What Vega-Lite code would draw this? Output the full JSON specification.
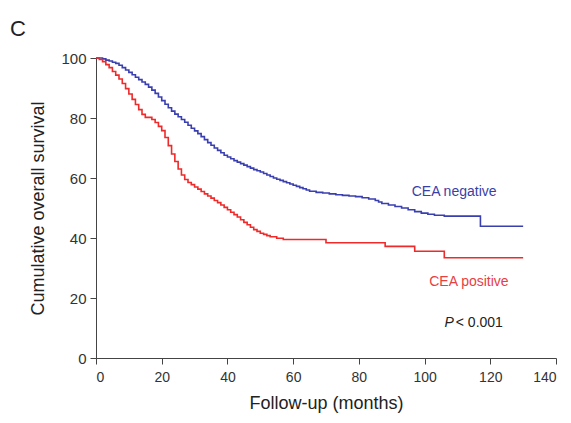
{
  "$schema": "https://vega.github.io/schema/vega-lite/v6.json",
  "autosize": {"type": "none"},
  "width": 460,
  "height": 300,
  "padding": {"left": 96, "top": 58, "right": 15, "bottom": 65},
  "background": "white",
  "title": {"text": "C", "anchor": "start", "frame": "group", "dx": -86, "offset": 10, "fontSize": 22, "font": "Liberation Sans", "fontWeight": "normal", "color": "#222"},
  "config": {
    "view": {"stroke": null},
    "axis": {"labelFont": "Liberation Sans", "titleFont": "Liberation Sans", "labelFontSize": 14, "titleFontSize": 18, "titleFontWeight": "normal", "labelColor": "#333", "titleColor": "#222", "domainColor": "#444", "tickColor": "#444", "grid": false, "tickSize": 6}
  },
  "datasets": {
    "neg": [
      {"t": 0, "s": 100}, {"t": 2, "s": 99.7}, {"t": 3, "s": 99.3}, {"t": 4, "s": 99}, {"t": 5, "s": 98.6}, {"t": 6, "s": 98.2}, {"t": 7, "s": 97.6}, {"t": 8, "s": 96.8}, {"t": 9, "s": 96}, {"t": 10, "s": 95.2},
      {"t": 11, "s": 94.4}, {"t": 12, "s": 93.6}, {"t": 13, "s": 92.8}, {"t": 14, "s": 92}, {"t": 15, "s": 91.2}, {"t": 16, "s": 90.3}, {"t": 17, "s": 89.3}, {"t": 18, "s": 88.2}, {"t": 19, "s": 87}, {"t": 20, "s": 85.8},
      {"t": 21, "s": 84.6}, {"t": 22, "s": 83.4}, {"t": 23, "s": 82.3}, {"t": 24, "s": 81.3}, {"t": 25, "s": 80.4}, {"t": 26, "s": 79.5}, {"t": 27, "s": 78.6}, {"t": 28, "s": 77.6}, {"t": 29, "s": 76.6}, {"t": 30, "s": 75.7},
      {"t": 31, "s": 74.8}, {"t": 32, "s": 73.8}, {"t": 33, "s": 72.8}, {"t": 34, "s": 71.8}, {"t": 35, "s": 70.9}, {"t": 36, "s": 70}, {"t": 37, "s": 69.2}, {"t": 38, "s": 68.4}, {"t": 39, "s": 67.6}, {"t": 40, "s": 67},
      {"t": 41, "s": 66.4}, {"t": 42, "s": 65.8}, {"t": 43, "s": 65.3}, {"t": 44, "s": 64.8}, {"t": 45, "s": 64.3}, {"t": 46, "s": 63.8}, {"t": 47, "s": 63.3}, {"t": 48, "s": 62.8}, {"t": 49, "s": 62.4}, {"t": 50, "s": 62},
      {"t": 51, "s": 61.5}, {"t": 52, "s": 61}, {"t": 53, "s": 60.5}, {"t": 54, "s": 60}, {"t": 55, "s": 59.6}, {"t": 56, "s": 59.2}, {"t": 57, "s": 58.8}, {"t": 58, "s": 58.4}, {"t": 59, "s": 58}, {"t": 60, "s": 57.6},
      {"t": 61, "s": 57.2}, {"t": 62, "s": 56.8}, {"t": 63, "s": 56.4}, {"t": 64, "s": 56}, {"t": 65, "s": 55.6}, {"t": 67, "s": 55.2}, {"t": 69, "s": 55}, {"t": 71, "s": 54.7}, {"t": 73, "s": 54.4}, {"t": 75, "s": 54.2},
      {"t": 77, "s": 54}, {"t": 79, "s": 53.8}, {"t": 81, "s": 53.4}, {"t": 83, "s": 53}, {"t": 85, "s": 52.5}, {"t": 86, "s": 52}, {"t": 87, "s": 51.5}, {"t": 89, "s": 51}, {"t": 91, "s": 50.5}, {"t": 93, "s": 50},
      {"t": 95, "s": 49.4}, {"t": 97, "s": 48.8}, {"t": 99, "s": 48.3}, {"t": 101, "s": 47.9}, {"t": 103, "s": 47.6}, {"t": 106, "s": 47.3}, {"t": 117, "s": 43.9}, {"t": 130, "s": 43.9}
    ],
    "pos": [
      {"t": 0, "s": 100}, {"t": 1, "s": 99.5}, {"t": 2, "s": 98.8}, {"t": 3, "s": 97.8}, {"t": 4, "s": 96.8}, {"t": 5, "s": 95.5}, {"t": 6, "s": 94.3}, {"t": 7, "s": 93}, {"t": 8, "s": 91.5}, {"t": 9, "s": 89.8},
      {"t": 10, "s": 88}, {"t": 11, "s": 86.2}, {"t": 12, "s": 84.5}, {"t": 13, "s": 82.8}, {"t": 14, "s": 81.2}, {"t": 15, "s": 80.2}, {"t": 17, "s": 79.5}, {"t": 18, "s": 78.5}, {"t": 19, "s": 77.2}, {"t": 20, "s": 75.8},
      {"t": 21, "s": 73.5}, {"t": 22, "s": 70.8}, {"t": 23, "s": 68}, {"t": 24, "s": 65.5}, {"t": 25, "s": 63}, {"t": 26, "s": 61}, {"t": 27, "s": 59.5}, {"t": 28, "s": 58.5}, {"t": 29, "s": 57.8}, {"t": 30, "s": 57},
      {"t": 31, "s": 56.3}, {"t": 32, "s": 55.5}, {"t": 33, "s": 54.7}, {"t": 34, "s": 54}, {"t": 35, "s": 53.3}, {"t": 36, "s": 52.5}, {"t": 37, "s": 51.8}, {"t": 38, "s": 51}, {"t": 39, "s": 50.2}, {"t": 40, "s": 49.4},
      {"t": 41, "s": 48.6}, {"t": 42, "s": 47.8}, {"t": 43, "s": 47}, {"t": 44, "s": 46.1}, {"t": 45, "s": 45.2}, {"t": 46, "s": 44.4}, {"t": 47, "s": 43.6}, {"t": 48, "s": 42.8}, {"t": 49, "s": 42.2}, {"t": 50, "s": 41.6},
      {"t": 51, "s": 41.2}, {"t": 52, "s": 40.8}, {"t": 53, "s": 40.4}, {"t": 55, "s": 39.9}, {"t": 57, "s": 39.5}, {"t": 70, "s": 38.4}, {"t": 88, "s": 37.2}, {"t": 97, "s": 35.6}, {"t": 106, "s": 33.4}, {"t": 130, "s": 33.4}
    ],
    "labels": [
      {"label": "CEA negative", "t": 109, "s": 55.5, "c": "#3a3fa8"},
      {"label": "CEA positive", "t": 113.5, "s": 25.3, "c": "#e8403f"}
    ]
  },
  "layer": [
    {
      "data": {"name": "neg"},
      "mark": {"type": "line", "interpolate": "step-after", "strokeWidth": 1.6, "color": "#3a3fb0"},
      "encoding": {
        "x": {"field": "t", "type": "quantitative", "scale": {"domain": [0, 140], "nice": false}, "axis": {"values": [0, 20, 40, 60, 80, 100, 120, 140], "title": "Follow-up (months)", "labelPadding": 6, "titlePadding": 10}},
        "y": {"field": "s", "type": "quantitative", "scale": {"domain": [0, 100], "nice": false}, "axis": {"values": [0, 20, 40, 60, 80, 100], "title": "Cumulative overall survival", "labelFontSize": 15, "labelPadding": 4, "titlePadding": 13}}
      }
    },
    {
      "data": {"name": "pos"},
      "mark": {"type": "line", "interpolate": "step-after", "strokeWidth": 1.6, "color": "#ee2a2a"},
      "encoding": {
        "x": {"field": "t", "type": "quantitative"},
        "y": {"field": "s", "type": "quantitative"}
      }
    },
    {
      "data": {"name": "labels"},
      "mark": {"type": "text", "font": "Liberation Sans", "fontSize": 14},
      "encoding": {
        "x": {"field": "t", "type": "quantitative"},
        "y": {"field": "s", "type": "quantitative"},
        "text": {"field": "label"},
        "color": {"field": "c", "type": "nominal", "scale": null}
      }
    },
    {
      "data": {"values": [{"t": 107.5, "s": 11.7, "txt": "P"}]},
      "mark": {"type": "text", "font": "Liberation Sans", "fontSize": 14, "fontStyle": "italic", "color": "#222"},
      "encoding": {
        "x": {"field": "t", "type": "quantitative"},
        "y": {"field": "s", "type": "quantitative"},
        "text": {"field": "txt"}
      }
    },
    {
      "data": {"values": [{"t": 109.5, "s": 11.7, "txt": "< 0.001"}]},
      "mark": {"type": "text", "font": "Liberation Sans", "fontSize": 14, "align": "left", "color": "#222"},
      "encoding": {
        "x": {"field": "t", "type": "quantitative"},
        "y": {"field": "s", "type": "quantitative"},
        "text": {"field": "txt"}
      }
    }
  ]
}
